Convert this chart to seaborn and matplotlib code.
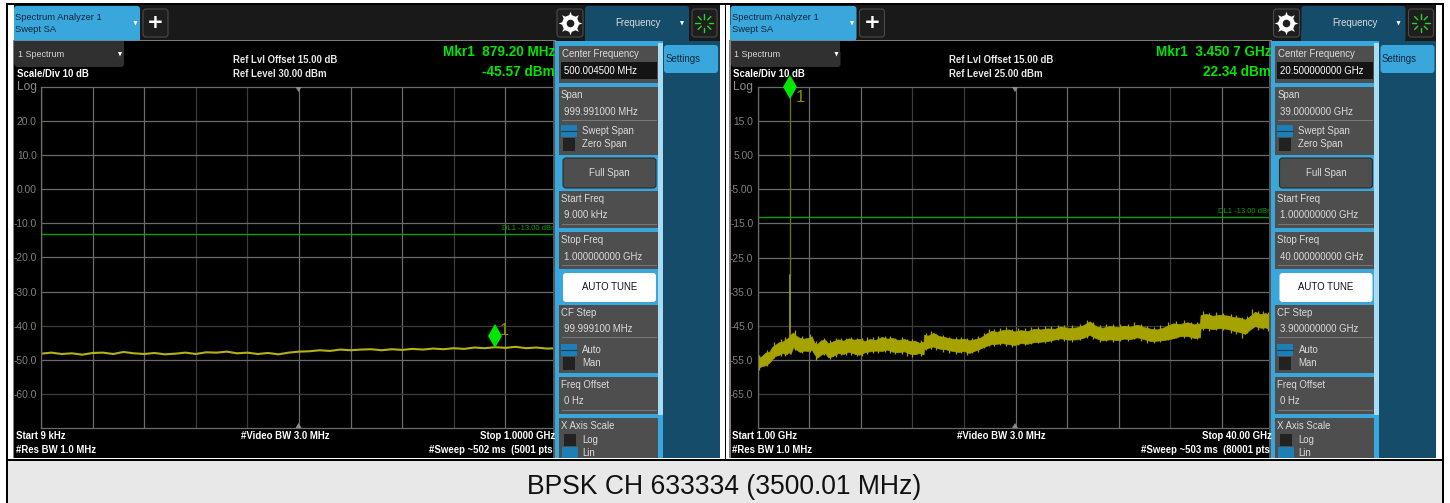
import matplotlib
matplotlib.use("Agg")
import matplotlib.pyplot as plt
from matplotlib.transforms import ScaledTranslation
import numpy as np
import seaborn as sns
from matplotlib.patches import FancyBboxPatch, Polygon, Rectangle

# left trace, 9 kHz - 1 GHz
left_freq = [0.009, 20, 40, 60, 80, 100, 120, 140, 160, 180, 200, 220, 240, 260, 280, 300, 320, 340, 360, 380,
             400, 420, 440, 460, 480, 500, 520, 540, 560, 580, 600, 620, 640, 660, 680, 700, 720, 740, 760, 780,
             800, 820, 840, 860, 880, 900, 920, 940, 960, 980, 1000]
left_db = [-48.2, -47.9, -48.3, -48.1, -48.5, -48.0, -47.9, -48.3, -47.7, -48.1, -48.3, -48.0, -48.4, -48.2, -47.9, -48.3, -47.8, -47.9, -47.6, -48.1,
           -47.9, -48.3, -48.0, -48.4, -47.9, -47.6, -47.5, -47.2, -47.4, -47.0, -47.2, -47.0, -46.9, -47.2, -46.9, -47.1, -46.8, -47.0, -46.7, -46.9,
           -46.6, -46.8, -46.4, -46.6, -46.3, -46.5, -46.2, -46.6, -46.4, -46.7, -46.6]

right_freq = [1.0, 1.3, 1.6, 1.9, 2.1, 2.3, 2.6, 2.9, 3.2, 3.35,
              3.5, 3.7, 3.9, 4.2, 4.5, 4.8, 5.1, 5.3, 5.5, 5.8,
              6.1, 6.35, 6.7, 7.1, 7.5, 7.9, 8.3, 8.7, 9.1, 9.5,
              9.9, 10.4, 10.8, 11.2, 11.6, 12.1, 12.5, 12.9, 13.2, 13.55,
              13.58, 13.9, 14.3, 14.7, 15.2, 15.7, 16.2, 16.6, 17.0, 17.5,
              17.9, 18.3, 18.7, 19.1, 19.5, 20.0, 20.4, 20.9, 21.4, 21.9,
              22.4, 22.9, 23.5, 23.9, 24.5, 25.1, 25.6, 26.1, 26.6, 27.1,
              27.6, 28.2, 28.7, 29.2, 29.7, 30.2, 30.7, 31.2, 31.7, 32.4,
              32.9, 33.5, 34.0, 34.44, 34.49, 34.9, 35.4, 35.9, 36.5, 37.0,
              37.4, 37.85, 38.2, 38.6, 39.0, 39.4, 39.7, 40.0]
right_upper = [-54.6, -54.0, -52.9, -52.6, -51.3, -50.7, -49.9, -49.6, -48.9, -48.4,
               -47.6, -47.0, -47.9, -48.6, -48.8, -48.6, -48.1, -50.0, -50.4, -49.3,
               -49.1, -50.2, -49.6, -49.0, -49.4, -48.7, -49.1, -48.9, -49.5, -48.9,
               -49.2, -48.3, -48.8, -48.6, -49.2, -48.9, -49.5, -49.4, -50.0, -49.7,
               -47.7, -47.9, -47.1, -48.0, -48.4, -48.8, -49.0, -48.8, -49.3, -48.9,
               -48.4, -47.3, -46.5, -46.8, -46.3, -46.1, -46.7, -46.3, -46.6, -45.9,
               -46.1, -45.8, -45.9, -45.2, -45.7, -45.5, -44.9, -43.7, -45.2, -45.6,
               -45.1, -45.4, -45.0, -45.3, -44.7, -45.4, -45.9, -46.1, -45.5, -44.3,
               -44.5, -44.0, -44.6, -44.3, -41.9, -41.5, -42.1, -41.8, -42.0, -42.5,
               -42.6, -43.2, -42.3, -40.9, -41.6, -41.3, -41.9, -41.9]
right_lower = [-57.5, -56.9, -56.6, -55.8, -54.9, -53.9, -53.6, -53.0, -53.4, -52.7,
               -53.3, -51.2, -51.9, -52.7, -52.3, -52.4, -52.0, -53.3, -54.4, -53.5,
               -53.0, -54.3, -53.9, -53.0, -53.3, -52.6, -53.2, -53.5, -52.8, -52.5,
               -52.3, -52.4, -52.0, -52.6, -52.8, -52.5, -53.2, -53.4, -53.0, -53.4,
               -51.9, -51.5, -51.1, -51.7, -51.9, -52.4, -52.7, -52.4, -53.0, -52.2,
               -51.6, -50.9, -50.4, -50.3, -50.1, -50.4, -50.7, -50.1, -50.3, -49.8,
               -49.7, -49.5, -49.0, -48.7, -49.1, -49.0, -48.6, -47.7, -48.7, -49.3,
               -49.0, -49.2, -48.8, -48.9, -48.4, -48.9, -49.5, -49.4, -49.2, -48.7,
               -48.1, -48.0, -48.6, -48.4, -45.8, -45.6, -46.0, -45.7, -45.9, -46.5,
               -46.8, -47.4, -46.2, -45.1, -45.6, -45.5, -46.1, -46.1]

# short noise peaks that stick out of the band
peak_freq = [1.15, 1.75, 2.25, 2.75, 3.1, 3.8, 4.4, 4.95, 5.4, 6.0,
             6.5, 6.9, 7.3, 7.7, 8.1, 8.5, 8.9, 9.3, 9.7, 10.1,
             10.6, 11.0, 11.4, 11.9, 12.3, 12.7, 13.35, 13.7, 14.1, 14.5,
             15.0, 15.5, 16.0, 16.4, 16.8, 17.2, 17.7, 18.1, 18.5, 18.9,
             19.3, 19.8, 20.2, 20.7, 21.2, 21.7, 22.2, 22.7, 23.2, 23.7,
             24.2, 24.8, 25.4, 25.9, 26.35, 26.9, 27.35, 27.9, 28.4, 29.0,
             29.45, 30.0, 30.45, 31.0, 31.45, 32.0, 32.65, 33.2, 33.75, 34.2,
             34.7, 35.15, 35.65, 36.2, 36.75, 37.2, 37.6, 38.0, 38.4, 38.8,
             39.2, 39.55]
peak_upper = [-53.6, -52.0, -49.9, -49.0, -48.2, -46.4, -48.0, -47.5, -49.5, -48.5,
              -49.2, -48.6, -48.5, -48.6, -48.2, -48.5, -48.7, -48.4, -48.4, -48.0,
              -48.0, -47.9, -48.5, -48.3, -48.8, -48.8, -49.2, -47.0, -46.6, -47.3,
              -47.8, -48.2, -48.4, -48.2, -48.5, -48.6, -48.0, -47.0, -46.0, -45.9,
              -45.7, -45.4, -45.9, -45.6, -45.8, -45.4, -45.3, -45.1, -45.2, -44.7,
              -44.9, -44.8, -44.4, -43.3, -44.0, -44.9, -44.4, -44.6, -44.4, -44.5,
              -44.0, -44.6, -45.2, -45.4, -44.9, -44.0, -43.7, -43.4, -43.8, -43.8,
              -40.8, -41.3, -41.0, -41.3, -41.7, -42.0, -42.4, -42.3, -40.2, -40.8,
              -40.7, -41.1]
peak_lower = [-57.9, -56.8, -54.5, -53.9, -53.9, -52.1, -53.1, -52.8, -55.0, -53.7,
              -54.7, -54.3, -53.7, -53.6, -53.6, -54.0, -53.8, -53.2, -52.9, -52.9,
              -52.8, -52.9, -53.2, -53.2, -53.8, -54.1, -53.9, -52.0, -51.9, -52.1,
              -52.6, -52.9, -53.2, -53.1, -53.5, -53.1, -52.6, -51.6, -50.9, -51.0,
              -50.8, -50.9, -51.2, -50.8, -50.8, -50.4, -50.1, -50.1, -49.7, -49.3,
              -49.6, -49.7, -49.2, -48.5, -48.9, -49.8, -49.6, -49.7, -49.4, -49.5,
              -49.0, -49.4, -50.0, -50.0, -49.7, -49.3, -48.7, -48.6, -49.0, -48.9,
              -46.2, -46.6, -46.3, -46.4, -47.0, -47.3, -48.6, -47.2, -45.8, -46.2,
              -46.1, -46.7]

spike_freq = [3.45, 3.45]
spike_dim = [22.34, -30.0]
spike_bright = [-30.0, -50.0]

left_ticks = [20, 10, 0, -10, -20, -30, -40, -50, -60]
left_labels = ["20.0", "10.0", "0.00", "-10.0", "-20.0", "-30.0", "-40.0", "-50.0", "-60.0"]
right_ticks = [15, 5, -5, -15, -25, -35, -45, -55, -65]
right_labels = ["15.0", "5.00", "-5.00", "-15.0", "-25.0", "-35.0", "-45.0", "-55.0", "-65.0"]

display_line = -13.0
left_marker = (879.2, -45.57)
right_marker = (3.4507, 22.34)

left_fields = ["500.004500 MHz", "999.991000 MHz", "9.000 kHz", "1.000000000 GHz", "99.999100 MHz"]
right_fields = ["20.500000000 GHz", "39.0000000 GHz", "1.000000000 GHz", "40.000000000 GHz", "3.900000000 GHz"]

W, H = 1450, 503
FONT = ["Liberation Sans", "DejaVu Sans"]
TRACE = "#a6a300"
GRID = "#6a6a6a"
GRID_DARK = "#3c3c3c"
BOLD_PX = 9.7
MKR_PX = 13.6

sns.set_theme(style="dark")
plt.rcParams["font.family"] = FONT

fig = plt.figure(figsize=(W / 100, H / 100), dpi=100, facecolor="white")


def pixel_axes(zorder):
    ax = fig.add_axes([0, 0, 1, 1], zorder=zorder)
    ax.set_xlim(0, W)
    ax.set_ylim(H, 0)
    ax.axis("off")
    ax.patch.set_alpha(0)
    return ax


def rect(ax, x0, y0, x1, y1, color, ec="none", lw=0):
    ax.add_patch(Rectangle((x0, y0), x1 - x0, y1 - y0, fc=color, ec=ec, lw=lw))


def round_rect(ax, x0, y0, x1, y1, color, ec="none"):
    ax.add_patch(FancyBboxPatch((x0 + 3, y0 + 3), x1 - x0 - 6, y1 - y0 - 6, boxstyle="round,pad=3",
                                fc=color, ec=ec, lw=0.8))


def label(ax, x, y, s, px=9.6, color="#dcdcdc", ha="left", weight="normal", family=None):
    ax.text(x, y, s, fontsize=px * 0.72, color=color, ha=ha, va="center", fontweight=weight,
            family=family or FONT)


def caret(ax, x, y):
    ax.add_patch(Polygon([(x - 2, y - 2), (x + 2, y - 2), (x, y + 2.5)], fc="white", ec="none"))


def toggle(ax, dx, y, first, second):
    rect(ax, dx + 561, y, dx + 577, y + 12, "#1d7fb5")
    ax.plot([dx + 561, dx + 577], [y + 6, y + 6], color="#12425f", lw=0.8)
    rect(ax, dx + 563, y + 13, dx + 575, y + 26, "#222222")
    label(ax, dx + 582, y + 6, first)
    label(ax, dx + 582, y + 19, second)


def chrome_back(ax, dx):
    # header bar and frame behind the graticule
    rect(ax, dx + 14, 5, dx + 720, 41, "#191919")
    rect(ax, dx + 14, 41, dx + 556, 458, "#000000")
    rect(ax, dx + 13, 40, dx + 14.5, 458, "#808080")
    rect(ax, dx + 14, 40, dx + 556, 41.3, "#7c7c7c")


def chrome_front(ax, dx, fields, ref_level, mkr, mkr_val, sweep, stop):
    round_rect(ax, dx + 14, 6, dx + 140, 40.5, "#3aa7dc")
    rect(ax, dx + 14, 25, dx + 140, 40, "#3aa7dc")
    label(ax, dx + 15.5, 17, "Spectrum Analyzer 1", color="#10283a", px=9.4)
    label(ax, dx + 15.5, 29.5, "Swept SA", color="#10283a", px=9.4)
    caret(ax, dx + 135.5, 23)
    round_rect(ax, dx + 143, 9, dx + 168, 37, "#1e1e1e", ec="#4a4a4a")
    label(ax, dx + 155.5, 22.5, "+", px=20, color="white", ha="center", weight="bold", family="DejaVu Sans")

    rect(ax, dx + 14.5, 41.3, dx + 124, 64, "#303030")
    round_rect(ax, dx + 14.5, 50, dx + 124, 67, "#303030")
    label(ax, dx + 18, 54.5, "1 Spectrum", color="#d8d8d8", px=9)
    caret(ax, dx + 120, 54)
    label(ax, dx + 17, 73.5, "Scale/Div 10 dB", color="white", weight="bold", px=BOLD_PX)
    label(ax, dx + 233, 60, "Ref Lvl Offset 15.00 dB", color="#e8e8e8", weight="bold", px=BOLD_PX)
    label(ax, dx + 233, 74, ref_level, color="#e8e8e8", weight="bold", px=BOLD_PX)
    label(ax, dx + 555, 52, mkr, px=MKR_PX, color="#00e600", ha="right", weight="bold")
    label(ax, dx + 555, 72, mkr_val, px=MKR_PX, color="#00e600", ha="right", weight="bold")
    label(ax, dx + 17, 87, "Log", px=12, color="#8c8c8c")

    label(ax, dx + 16, 436, "Start " + ("9 kHz" if dx == 0 else "1.00 GHz"), color="white", weight="bold", px=BOLD_PX)
    label(ax, dx + 241, 436, "#Video BW 3.0 MHz", color="white", weight="bold", px=BOLD_PX)
    label(ax, dx + 555, 436, stop, color="white", ha="right", weight="bold", px=BOLD_PX)
    label(ax, dx + 16, 450, "#Res BW 1.0 MHz", color="white", weight="bold", px=BOLD_PX)
    label(ax, dx + 553, 450, sweep, color="white", ha="right", weight="bold", px=BOLD_PX)

    # softkey panel
    rect(ax, dx + 553, 41, dx + 720, 458, "#154c69")
    rect(ax, dx + 553, 41, dx + 555, 458, "#555555")
    rect(ax, dx + 555, 41, dx + 663, 458, "#3aa7dc")
    rect(ax, dx + 658, 43, dx + 663, 415, "#a9dcf2")
    round_rect(ax, dx + 664, 45, dx + 718, 73, "#3aa7dc")
    label(ax, dx + 665.5, 59, "Settings", color="#10283a")

    for y0, y1 in [(46, 83), (87, 155), (191, 228), (232, 269), (305, 373), (377, 414), (418, 458)]:
        rect(ax, dx + 559, y0, dx + 658, y1, "#4e4e4e")
    rect(ax, dx + 561, 62, dx + 657, 79, "#141414")
    label(ax, dx + 562, 54, "Center Frequency")
    label(ax, dx + 564, 70.5, fields[0], color="white")
    label(ax, dx + 561, 95, "Span")
    label(ax, dx + 564, 112, fields[1])
    toggle(ax, dx, 125, "Swept Span", "Zero Span")
    round_rect(ax, dx + 563, 158, dx + 656, 188, "#4e4e4e", ec="#2a2a2a")
    label(ax, dx + 609.5, 173, "Full Span", ha="center")
    label(ax, dx + 561, 199, "Start Freq")
    label(ax, dx + 564, 215, fields[2])
    label(ax, dx + 561, 240, "Stop Freq")
    label(ax, dx + 564, 256.5, fields[3])
    round_rect(ax, dx + 563, 273, dx + 656, 302, "white")
    label(ax, dx + 609.5, 287.5, "AUTO TUNE", color="#111111", ha="center")
    label(ax, dx + 561, 313, "CF Step")
    label(ax, dx + 564, 329.5, fields[4])
    toggle(ax, dx, 344, "Auto", "Man")
    label(ax, dx + 561, 384.5, "Freq Offset")
    label(ax, dx + 564, 401, "0 Hz")
    label(ax, dx + 561, 426, "X Axis Scale")
    rect(ax, dx + 564, 434, dx + 576, 446, "#222222")
    label(ax, dx + 582, 440, "Log")
    rect(ax, dx + 562, 447, dx + 578, 458, "#1d7fb5")
    label(ax, dx + 582, 453, "Lin")
    for y in [120, 224, 265, 337, 410]:
        rect(ax, dx + 562, y, dx + 657, y + 1, "#777777")

    # right end of the header
    round_rect(ax, dx + 557, 9, dx + 583, 37, "#1e1e1e", ec="#4a4a4a")
    ax.plot([dx + 570], [23], marker=(8, 1, 0), ms=17, color="white", mew=0)
    ax.plot([dx + 570], [23], marker="o", ms=12, color="white", mew=0)
    ax.plot([dx + 570], [23], marker="o", ms=5.5, color="#1e1e1e", mew=0)
    round_rect(ax, dx + 585, 6, dx + 689, 41, "#154c69")
    rect(ax, dx + 585, 30, dx + 689, 41, "#154c69")
    label(ax, dx + 638, 23, "Frequency", ha="center")
    caret(ax, dx + 682, 23)
    round_rect(ax, dx + 692, 9, dx + 717, 37, "#1e1e1e", ec="#4a4a4a")
    for a in np.deg2rad(np.arange(0, 360, 45)):
        ax.plot([dx + 704.5 + 4.5 * np.cos(a), dx + 704.5 + 9 * np.cos(a)],
                [23 + 4.5 * np.sin(a), 23 + 9 * np.sin(a)], color="#2bd42b", lw=1)


def graticule(dx, xlim, ticks, tick_labels, ylim):
    ax = fig.add_axes([(dx + 41) / W, 1 - 428 / H, 516 / W, 341 / H], zorder=2)
    ax.set_facecolor("#000000")
    ax.set_xlim(*xlim)
    ax.set_ylim(*ylim)
    ax.set_xticks(np.linspace(xlim[0], xlim[1], 11))
    ax.set_yticks(ticks)
    ax.set_yticklabels(tick_labels)
    ax.set_xticklabels([])
    ax.tick_params(axis="both", length=0)
    ax.tick_params(axis="y", pad=3, labelsize=7.4, labelcolor="#808080")
    ax.grid(True, color=GRID, lw=0.9)
    # the screenshot was resampled, some graticule lines came out darker
    for i in [3, 4, 8]:
        ax.get_xgridlines()[i].set_color(GRID_DARK)
    for i in [6, 8]:
        ax.get_ygridlines()[i].set_color(GRID_DARK)
    for s in ax.spines.values():
        s.set_color(GRID)
        s.set_linewidth(0.9)
    ax.patch.set_alpha(1)
    return ax


back = pixel_axes(0)
chrome_back(back, 0)
chrome_back(back, 716.5)

ax_left = graticule(0, (0.009, 1000), left_ticks, left_labels, (-70, 30))
ax_right = graticule(716.5, (1, 40), right_ticks, right_labels, (-75, 25))

# traces
sns.lineplot(x=left_freq, y=left_db, ax=ax_left, color="#b5b014", lw=1.5, errorbar=None, estimator=None)
ax_left.axvline(left_freq[0], ymin=0.22, ymax=1, color="#4a4700", lw=1)
ax_left.axhline(display_line, color="#0aa00a", lw=1)
ax_left.text(1000, display_line + 0.4, "DL1 -13.00 dBm", color="#0ba20b", fontsize=5.5, ha="right", va="bottom", clip_on=False)

ax_right.fill_between(right_freq, right_lower, right_upper, color=TRACE, lw=0.5)
ax_right.vlines(peak_freq, peak_lower, peak_upper, color=TRACE, lw=0.9)
sns.lineplot(x=spike_freq, y=spike_dim, ax=ax_right, color="#6f6c0a", lw=1, errorbar=None, estimator=None)
sns.lineplot(x=spike_freq, y=spike_bright, ax=ax_right, color=TRACE, lw=1.2, errorbar=None, estimator=None)
ax_right.axhline(display_line, color="#0aa00a", lw=1)
ax_right.text(40, display_line + 0.4, "DL1 -13.00 dBm", color="#0ba20b", fontsize=5.5, ha="right", va="bottom", clip_on=False)

# markers sit just above the point they mark
for ax, (mf, md), offs in [(ax_left, left_marker, (4, 7)), (ax_right, right_marker, (4.5, -4.5))]:
    ax.annotate("", xy=(mf, md), xytext=(0, 7), textcoords="offset points",
                arrowprops=dict(arrowstyle="-", color="#00e600", lw=1))
    ax.plot([mf], [md], marker="d", ms=12, color="#00e600", mew=0, clip_on=False, zorder=6,
            transform=ax.transData + ScaledTranslation(0, 9 / 100, fig.dpi_scale_trans))
    ax.annotate("1", xy=(mf, md), xytext=offs, textcoords="offset points", color="#8f8c00", fontsize=12,
                annotation_clip=False, zorder=6)

front = pixel_axes(3)
for dx in [0, 716.5]:
    for y, pts in [(87, [(-3, 0), (3, 0), (0, 5)]), (428, [(-3, 0), (3, 0), (0, -5)])]:
        front.add_patch(Polygon([(dx + 298.5 + p, y + q) for p, q in pts], fc="#8a8a8a", ec="none"))

chrome_front(front, 0, left_fields, "Ref Level 30.00 dBm", "Mkr1  879.20 MHz", "-45.57 dBm",
             "#Sweep ~502 ms  (5001 pts", "Stop 1.0000 GHz")
chrome_front(front, 716.5, right_fields, "Ref Level 25.00 dBm", "Mkr1  3.450 7 GHz", "22.34 dBm",
             "#Sweep ~503 ms  (80001 pts", "Stop 40.00 GHz")

# outer table lines and caption cell
rect(front, 8, 460, 1442, 503, "#e8e8e8")
rect(front, 6.5, 3, 1444, 5, "#000000")
rect(front, 6.5, 458.5, 1444, 460.5, "#000000")
rect(front, 6.5, 3, 8, 503, "#000000")
rect(front, 1442, 3, 1444, 503, "#000000")
rect(front, 725, 3, 726.5, 459, "#000000")
label(front, 724, 487, "BPSK CH 633334 (3500.01 MHz)", px=26.5, color="#111111", ha="center", family=FONT)

fig.savefig("out.png", dpi=100)
